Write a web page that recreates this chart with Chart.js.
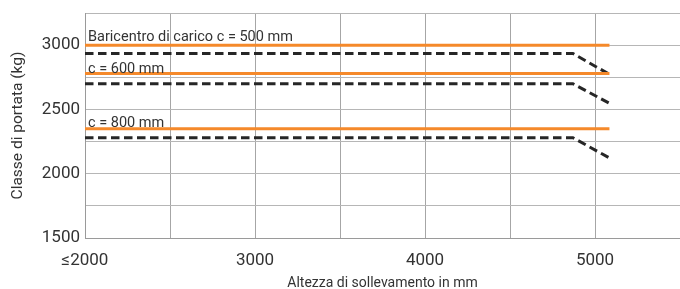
<!DOCTYPE html>
<html>
<head>
<meta charset="utf-8">
<script src="https://cdn.jsdelivr.net/npm/chart.js@4"></script>
<style>
html,body{margin:0;padding:0;background:#fff}
#wrap{width:680px;height:289px}
</style>
</head>
<body>
<div id="wrap"><canvas id="myChart"></canvas></div>
<script>
/**Chart data */
// lifting heights (mm): flat lines run to the end, the dashed ones bend down near 5000
const flatHeights = [2000, 5085]
const curveHeights = [2000, 4870, 5095]

// capacity (kg) for each load centre
const load500 = [3000, 3000]
const load600 = [2780, 2780]
const load800 = [2350, 2350]
const reduced500 = [2935, 2935, 2765]
const reduced600 = [2700, 2700, 2540]
const reduced800 = [2280, 2280, 2115]

const xTicks = [2000, 3000, 4000, 5000]
const yTicks = [1500, 2000, 2500, 3000]

const lineLabels = ['Baricentro di carico c = 500 mm', 'c = 600 mm', 'c = 800 mm']
const lineLabelValues = [3035, 2787, 2362]

const orange = '#f5892a'
const dark = '#262626'

function points(xs, ys){
    return xs.map((x, i) => ({x: x, y: ys[i]}))
}

function flat(data){
    return {data: points(flatHeights, data), borderColor: orange, borderWidth: 3,
        pointRadius: 0, tension: 0, borderCapStyle: 'butt'}
}

function dashed(data){
    return {data: points(curveHeights, data), borderColor: dark, borderWidth: 3,
        borderDash: [8.5, 4.5], pointRadius: 0, tension: 0, borderCapStyle: 'butt'}
}

// draws the text over each orange line
const labelPlugin = {
    id: 'lineLabels',
    afterDatasetsDraw(chart){
        const c = chart.ctx
        const xs = chart.scales.x
        const ys = chart.scales.y
        c.save()
        c.font = '14.5px Roboto'
        c.fillStyle = '#333'
        c.textBaseline = 'alphabetic'
        c.textAlign = 'left'
        lineLabels.forEach((t, i) => {
            c.fillText(t, xs.getPixelForValue(2000) + 3, ys.getPixelForValue(lineLabelValues[i]))
        })
        c.restore()
    }
}

const ctx = document.getElementById('myChart')
let myChart = new Chart(ctx, {
    type: 'line',
    data: {
        datasets: [
            flat(load500),
            flat(load600),
            flat(load800),
            dashed(reduced500),
            dashed(reduced600),
            dashed(reduced800)
        ]
    },
    options: {
        responsive: true,
        maintainAspectRatio: false,
        animation: false,
        layout: {padding: {top: 13, right: 0, left: 0, bottom: 0}},
        plugins: {legend: {display: false}, tooltip: {enabled: false}},
        scales: {
            x: {
                type: 'linear',
                min: 2000,
                max: 5500,
                afterFit: (s) => { s.height = 51; s.paddingRight = 0; s.paddingLeft = 0 },
                border: {color: '#9a9a9a'},
                grid: {color: '#a6a6a6', drawTicks: false},
                ticks: {
                    stepSize: 500,
                    autoSkip: false,
                    maxRotation: 0,
                    padding: 13,
                    color: '#333',
                    font: {family: 'Roboto', size: 17},
                    callback: (v) => xTicks.includes(v) ? (v === 2000 ? '≤2000' : String(v)) : ''
                },
                title: {
                    display: true,
                    text: 'Altezza di sollevamento in mm',
                    color: '#333',
                    font: {family: 'Roboto', size: 14},
                    padding: {top: 0, bottom: -3}
                }
            },
            y: {
                min: 1500,
                max: 3250,
                afterFit: (s) => { s.width = 85; s.paddingTop = 0; s.paddingBottom = 0 },
                border: {color: '#9a9a9a'},
                grid: {color: '#b6b6b6', drawTicks: false},
                ticks: {
                    stepSize: 250,
                    autoSkip: false,
                    padding: 5,
                    color: '#333',
                    font: {family: 'Roboto', size: 17},
                    callback: (v) => yTicks.includes(v) ? String(v) : ''
                },
                title: {
                    display: true,
                    text: 'Classe di portata (kg)',
                    color: '#333',
                    font: {family: 'Roboto', size: 15.5},
                    padding: {top: 9, bottom: 0}
                }
            }
        }
    },
    plugins: [labelPlugin]
});
</script>
</body>
</html>
